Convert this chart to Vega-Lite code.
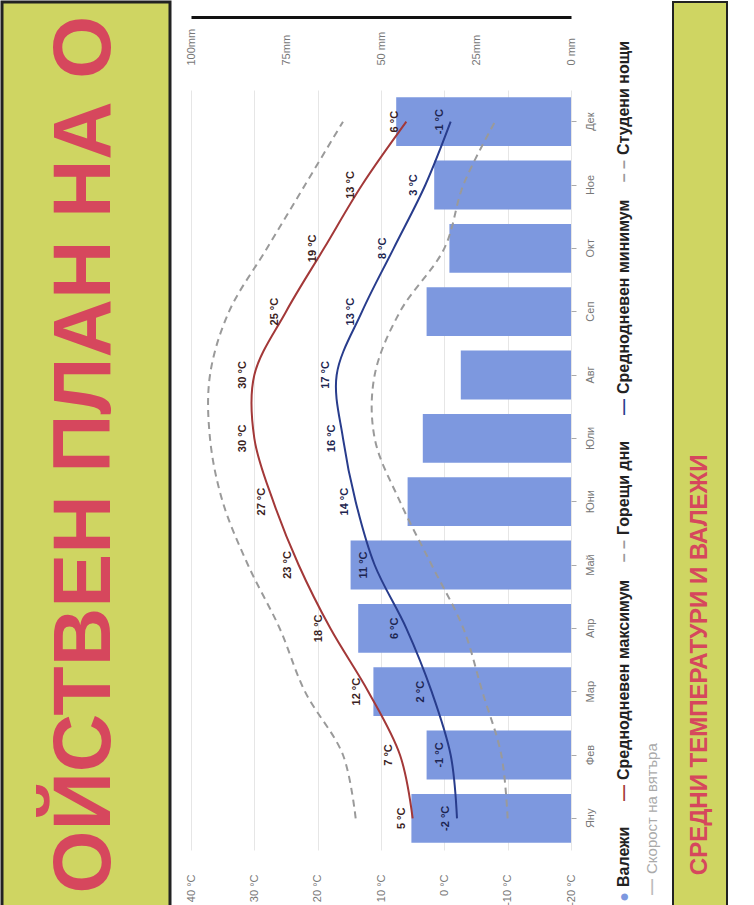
{
  "$schema": "https://vega.github.io/schema/vega-lite/v6.json",
  "background": "white",
  "padding": 0,
  "spacing": 12,
  "config": {"view": {"stroke": null}, "font": "Liberation Sans"},
  "datasets": {
    "clim": [
      {"month": "Яну", "m": 1, "rain": 42, "tmax": 5, "tmin": -2, "hot": 14, "cold": -10},
      {"month": "Фев", "m": 2, "rain": 38, "tmax": 7, "tmin": -1, "hot": 16, "cold": -9},
      {"month": "Мар", "m": 3, "rain": 52, "tmax": 12, "tmin": 2, "hot": 22, "cold": -6},
      {"month": "Апр", "m": 4, "rain": 56, "tmax": 18, "tmin": 6, "hot": 26, "cold": -3},
      {"month": "Май", "m": 5, "rain": 58, "tmax": 23, "tmin": 11, "hot": 31, "cold": 2},
      {"month": "Юни", "m": 6, "rain": 43, "tmax": 27, "tmin": 14, "hot": 35, "cold": 7},
      {"month": "Юли", "m": 7, "rain": 39, "tmax": 30, "tmin": 16, "hot": 37, "cold": 11},
      {"month": "Авг", "m": 8, "rain": 29, "tmax": 30, "tmin": 17, "hot": 37, "cold": 11},
      {"month": "Сеп", "m": 9, "rain": 38, "tmax": 25, "tmin": 13, "hot": 34, "cold": 7},
      {"month": "Окт", "m": 10, "rain": 32, "tmax": 19, "tmin": 8, "hot": 28, "cold": 0},
      {"month": "Ное", "m": 11, "rain": 36, "tmax": 13, "tmin": 3, "hot": 22, "cold": -3},
      {"month": "Дек", "m": 12, "rain": 46, "tmax": 6, "tmin": -1, "hot": 16, "cold": -8}
    ],
    "legend": [
      {"order": 1, "row": "1", "kind": "rain", "sym": "●", "label": "Валежи"},
      {"order": 2, "row": "1", "kind": "max", "sym": "—", "label": "Среднодневен максимум"},
      {"order": 3, "row": "1", "kind": "hot", "sym": "– –", "label": "Горещи дни"},
      {"order": 4, "row": "1", "kind": "min", "sym": "—", "label": "Среднодневен минимум"},
      {"order": 5, "row": "1", "kind": "cold", "sym": "– –", "label": "Студени нощи"},
      {"order": 6, "row": "2", "kind": "wind", "sym": "—", "label": "Скорост на вятъра"}
    ]
  },
  "hconcat": [
    {
      "width": 168,
      "height": 905,
      "view": {"fill": "#cfd562", "stroke": "#222222", "strokeWidth": 3},
      "data": {"values": [{"t": "ОЙСТВЕН ПЛАН НА О"}]},
      "mark": {"type": "text", "angle": 270, "align": "center", "baseline": "middle", "fontSize": 81, "fontWeight": "bold", "font": "Liberation Sans", "color": "#d6475d"},
      "encoding": {"text": {"field": "t"}}
    },
    {
      "width": 380,
      "height": 905,
      "data": {"name": "clim"},
      "encoding": {
        "y": {
          "field": "month", "type": "nominal",
          "scale": {"domain": ["Дек", "Ное", "Окт", "Сеп", "Авг", "Юли", "Юни", "Май", "Апр", "Мар", "Фев", "Яну"], "range": [88, 848], "paddingInner": 0.23, "paddingOuter": 0.115},
          "axis": {"orient": "right", "title": null, "labelAngle": 270, "labelAlign": "center", "labelBaseline": "top", "labelPadding": 8, "tickSize": 5, "tickColor": "#aaaaaa", "domain": false, "labelColor": "#777777", "labelFontSize": 11, "labelOverlap": false}
        }
      },
      "layer": [
        {
          "mark": {"type": "bar", "color": "#7d98df"},
          "encoding": {
            "x": {
              "field": "rain", "type": "quantitative",
              "scale": {"domain": [0, 100], "reverse": true, "nice": false},
              "axis": {"orient": "bottom", "offset": -890, "values": [0, 25, 50, 75, 100], "labelExpr": "datum.value == 100 ? '100mm' : datum.value == 75 ? '75mm' : datum.value == 50 ? '50 mm' : datum.value == 25 ? '25mm' : '0 mm'", "labelAngle": 270, "labelAlign": "left", "labelBaseline": "middle", "labelPadding": 48, "labelFlush": false, "labelOverlap": false, "ticks": false, "domain": true, "domainColor": "#111111", "domainWidth": 3, "grid": false, "labelColor": "#777777", "labelFontSize": 11, "title": null}
            }
          }
        },
        {
          "layer": [
            {
              "mark": {"type": "line", "color": "#9a9a9a", "strokeDash": [7, 5], "strokeWidth": 2, "interpolate": "catmull-rom"},
              "encoding": {
                "x": {"field": "hot", "type": "quantitative", "scale": {"domain": [-20, 40], "reverse": true, "nice": false}, "axis": {"orient": "top", "offset": -876, "values": [-20, -10, 0, 10, 20, 30, 40], "labelExpr": "datum.value + ' °C'", "labelAngle": 270, "labelAlign": "right", "labelBaseline": "middle", "labelPadding": 4, "labelFlush": false, "labelOverlap": false, "ticks": false, "domain": false, "grid": true, "gridColor": "#e6e6e6", "labelColor": "#777777", "labelFontSize": 11, "title": null}},
                "order": {"field": "m", "type": "quantitative"}
              }
            },
            {
              "mark": {"type": "line", "color": "#9a9a9a", "strokeDash": [7, 5], "strokeWidth": 2, "interpolate": "catmull-rom"},
              "encoding": {
                "x": {"field": "cold", "type": "quantitative", "title": null},
                "order": {"field": "m", "type": "quantitative"}
              }
            },
            {
              "mark": {"type": "line", "color": "#a33838", "strokeWidth": 2, "interpolate": "catmull-rom"},
              "encoding": {
                "x": {"field": "tmax", "type": "quantitative", "title": null},
                "order": {"field": "m", "type": "quantitative"}
              }
            },
            {
              "mark": {"type": "line", "color": "#283c8c", "strokeWidth": 2, "interpolate": "catmull-rom"},
              "encoding": {
                "x": {"field": "tmin", "type": "quantitative", "title": null},
                "order": {"field": "m", "type": "quantitative"}
              }
            },
            {
              "mark": {"type": "text", "angle": 270, "align": "center", "baseline": "bottom", "xOffset": -6, "fontSize": 11, "fontWeight": "bold", "color": "#3a2222", "text": {"expr": "datum.tmax + ' °C'"}},
              "encoding": {"x": {"field": "tmax", "type": "quantitative", "title": null}}
            },
            {
              "mark": {"type": "text", "angle": 270, "align": "center", "baseline": "bottom", "xOffset": -6, "fontSize": 11, "fontWeight": "bold", "color": "#1d2550", "text": {"expr": "datum.tmin + ' °C'"}},
              "encoding": {"x": {"field": "tmin", "type": "quantitative", "title": null}}
            }
          ]
        }
      ],
      "resolve": {"scale": {"x": "independent"}, "axis": {"x": "independent"}}
    },
    {
      "width": 45,
      "height": 905,
      "data": {"name": "legend"},
      "encoding": {
        "x": {"field": "row", "type": "nominal", "scale": {"type": "point", "domain": ["1", "2"], "padding": 0.304, "align": 1}, "axis": null},
        "y": {"field": "order", "type": "quantitative", "scale": {"domain": [1, 2, 3, 4, 5, 6], "range": [885, 778, 533, 392, 153, 872], "nice": false, "zero": false}, "axis": null}
      },
      "layer": [
        {
          "mark": {"type": "text", "angle": 270, "align": "right", "baseline": "middle", "fontSize": 16, "fontWeight": "bold", "yOffset": 5},
          "encoding": {
            "text": {"field": "sym"},
            "color": {"field": "kind", "type": "nominal", "scale": {"domain": ["rain", "max", "hot", "min", "cold", "wind"], "range": ["#7d98df", "#a33838", "#9a9a9a", "#283c8c", "#9a9a9a", "#bdbdbd"]}, "legend": null}
          }
        },
        {
          "transform": [{"filter": "datum.row == '1'"}],
          "mark": {"type": "text", "angle": 270, "align": "left", "baseline": "middle", "fontSize": 16, "fontWeight": "bold", "color": "#222222"},
          "encoding": {"text": {"field": "label"}}
        },
        {
          "transform": [{"filter": "datum.row == '2'"}],
          "mark": {"type": "text", "angle": 270, "align": "left", "baseline": "middle", "fontSize": 15, "color": "#aaaaaa"},
          "encoding": {"text": {"field": "label"}}
        }
      ]
    },
    {
      "width": 54,
      "height": 905,
      "view": {"fill": "#cfd562", "stroke": "#222222", "strokeWidth": 2},
      "data": {"values": [{"t": "СРЕДНИ ТЕМПЕРАТУРИ И ВАЛЕЖИ"}]},
      "mark": {"type": "text", "angle": 270, "align": "right", "baseline": "middle", "fontSize": 24, "fontWeight": "bold", "font": "Liberation Sans", "color": "#d6475d"},
      "encoding": {"text": {"field": "t"}}
    }
  ]
}
